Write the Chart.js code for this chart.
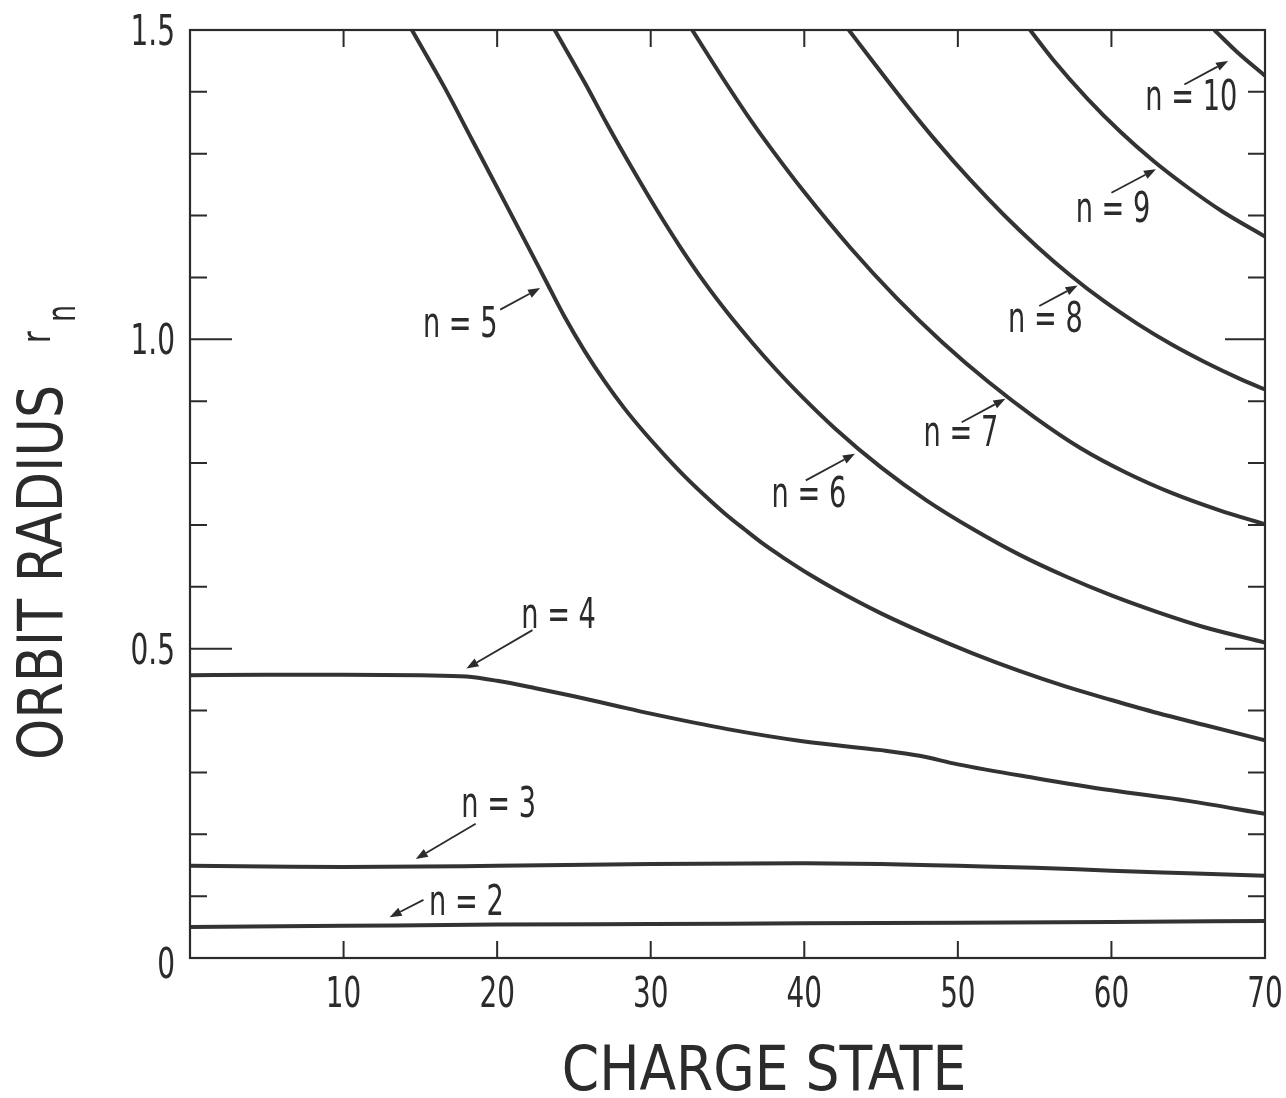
<!DOCTYPE html>
<html>
<head>
<meta charset="utf-8">
<script src="https://cdn.jsdelivr.net/npm/chart.js@4.4.0/dist/chart.umd.min.js"></script>
<style>
  html, body { margin: 0; padding: 0; background: #fff; }
  #wrap { width: 1286px; height: 1098px; position: relative; }
</style>
</head>
<body>
<div id="wrap"><canvas id="chart"></canvas></div>
<script>
// axis ticks
const xTickValues = [10, 20, 30, 40, 50, 60, 70];
const yMinorTicks = [0.1, 0.2, 0.3, 0.4, 0.5, 0.6, 0.7, 0.8, 0.9, 1.0, 1.1, 1.2, 1.3, 1.4];
const yMajorTicks = [0.5, 1.0];
const yLabelValues = [0, 0.5, 1.0, 1.5];
const yLabelText = ['0', '0.5', '1.0', '1.5'];

// orbit radius curves (charge state -> r_n)
const chargeN2 = [0, 10, 20, 30, 40, 50, 60, 70];
const radiusN2 = [0.050, 0.052, 0.054, 0.055, 0.056, 0.057, 0.058, 0.060];

const chargeN3 = [0, 5, 10, 20, 30, 40, 45, 50, 55, 60, 65, 70];
const radiusN3 = [0.149, 0.148, 0.147, 0.149, 0.152, 0.153, 0.152, 0.149, 0.146, 0.141, 0.137, 0.133];

const chargeN4 = [0, 5, 10, 15, 18, 20, 22.5, 25, 27.5, 30, 35, 40, 45, 47.5, 50, 55, 60, 65, 70];
const radiusN4 = [0.457, 0.458, 0.458, 0.457, 0.455, 0.448, 0.436, 0.423, 0.409, 0.395, 0.370, 0.350, 0.336, 0.327, 0.313, 0.291, 0.271, 0.254, 0.233];

const chargeN5 = [14.45, 16.6, 18.4, 20.2, 21.8, 23.1, 24.4, 25.7, 27.0, 28.3, 29.6, 30.9, 32.2, 33.5, 34.8, 36.1, 37.4, 38.7, 40.4, 42, 45, 48, 51, 54, 57, 60, 63, 66, 70];
const radiusN5 = [1.5, 1.406, 1.321, 1.236, 1.160, 1.098, 1.036, 0.981, 0.932, 0.888, 0.849, 0.813, 0.779, 0.748, 0.719, 0.693, 0.668, 0.646, 0.619, 0.596, 0.557, 0.523, 0.492, 0.464, 0.439, 0.417, 0.396, 0.377, 0.352];

const chargeN6 = [23.75, 25.7, 27.2, 28.8, 30.4, 31.9, 33.5, 35.0, 36.6, 38.2, 39.7, 42, 45, 48, 51, 54, 57, 60, 63, 66, 70];
const radiusN6 = [1.5, 1.415, 1.346, 1.276, 1.209, 1.150, 1.092, 1.043, 0.995, 0.950, 0.911, 0.856, 0.793, 0.739, 0.693, 0.652, 0.617, 0.586, 0.559, 0.535, 0.510];

const chargeN7 = [32.7, 34.8, 36.6, 38.0, 40.0, 43, 46, 49, 52, 55, 58, 61, 64, 67, 70];
const radiusN7 = [1.5, 1.418, 1.351, 1.303, 1.238, 1.148, 1.067, 0.995, 0.931, 0.874, 0.824, 0.784, 0.751, 0.724, 0.701];

const chargeN8 = [42.9, 44.25, 46.4, 48.6, 50.8, 53.0, 55.2, 57.3, 59.5, 61.7, 63.9, 66.1, 68.3, 70];
const radiusN8 = [1.5, 1.456, 1.387, 1.320, 1.258, 1.201, 1.149, 1.104, 1.062, 1.025, 0.992, 0.963, 0.937, 0.919];

const chargeN9 = [54.7, 56.2, 58.4, 60.6, 62.8, 65.0, 67.2, 70];
const radiusN9 = [1.5, 1.452, 1.390, 1.335, 1.287, 1.245, 1.207, 1.166];

const chargeN10 = [66.7, 68.2, 70];
const radiusN10 = [1.5, 1.464, 1.426];

// curve labels with arrows (data coordinates)
const labelText  = ['n = 2', 'n = 3', 'n = 4', 'n = 5', 'n = 6', 'n = 7', 'n = 8', 'n = 9', 'n = 10'];
const labelX     = [18.0, 20.1, 24.0, 17.6, 40.3, 50.2, 55.7, 60.1, 65.2];
const labelY     = [0.090, 0.248, 0.555, 1.025, 0.750, 0.849, 1.033, 1.211, 1.391];
const arrowFromX = [15.2, 18.6, 22.3, 20.2, 40.1, 50.25, 55.3, 60.0, 64.75];
const arrowFromY = [0.094, 0.217, 0.530, 1.048, 0.772, 0.866, 1.054, 1.237, 1.412];
const arrowToX   = [13.0, 14.7, 18.0, 22.8, 43.3, 53.1, 57.8, 62.9, 67.6];
const arrowToY   = [0.066, 0.160, 0.468, 1.083, 0.815, 0.904, 1.087, 1.275, 1.450];

const FONT = "'DejaVu Sans Condensed', 'DejaVu Sans', sans-serif";
const INK = '#2b2b2b';
const CURVE = '#333333';

function pts(xs, ys) {
  return xs.map((x, i) => ({ x: x, y: ys[i] }));
}

// draws text squeezed horizontally to mimic the narrow lettering
function narrowText(ctx, text, x, y, size, sx, align, angle) {
  ctx.save();
  ctx.translate(x, y);
  if (angle) ctx.rotate(angle);
  ctx.scale(sx, 1);
  ctx.font = size + 'px ' + FONT;
  ctx.textAlign = align;
  ctx.fillText(text, 0, 0);
  ctx.restore();
}

const curves = [
  [chargeN2, radiusN2], [chargeN3, radiusN3], [chargeN4, radiusN4],
  [chargeN5, radiusN5], [chargeN6, radiusN6], [chargeN7, radiusN7],
  [chargeN8, radiusN8], [chargeN9, radiusN9], [chargeN10, radiusN10]
];

const datasets = curves.map((c, i) => ({
  label: 'n=' + (i + 2),
  data: pts(c[0], c[1]),
  borderColor: CURVE,
  borderWidth: 4,
  pointRadius: 0,
  fill: false,
  cubicInterpolationMode: 'monotone'
}));

// frame, inward ticks, tick labels, titles, curve labels
const decorations = {
  id: 'decorations',
  afterDraw(chart) {
    const ctx = chart.ctx;
    const xs = chart.scales.x, ys = chart.scales.y;
    const a = chart.chartArea;
    ctx.save();
    ctx.strokeStyle = INK;
    ctx.fillStyle = INK;
    ctx.textBaseline = 'alphabetic';

    // frame
    ctx.lineWidth = 2.2;
    ctx.strokeRect(a.left, a.top, a.right - a.left, a.bottom - a.top);

    // x ticks on bottom and top
    ctx.lineWidth = 2;
    ctx.beginPath();
    xTickValues.forEach(v => {
      if (v >= 70) return;
      const px = xs.getPixelForValue(v);
      ctx.moveTo(px, a.bottom); ctx.lineTo(px, a.bottom - 17);
      ctx.moveTo(px, a.top); ctx.lineTo(px, a.top + 17);
    });
    // y ticks on left and right
    yMinorTicks.forEach(v => {
      const py = ys.getPixelForValue(v);
      const major = yMajorTicks.some(m => Math.abs(m - v) < 1e-6);
      ctx.moveTo(a.left, py); ctx.lineTo(a.left + (major ? 42 : 17), py);
      ctx.moveTo(a.right, py); ctx.lineTo(a.right - (major ? 40 : 17), py);
    });
    ctx.stroke();

    // tick labels
    xTickValues.forEach(v => {
      narrowText(ctx, String(v), xs.getPixelForValue(v), a.bottom + 49, 43, 0.72, 'center');
    });
    yLabelValues.forEach((v, i) => {
      const py = ys.getPixelForValue(v);
      narrowText(ctx, yLabelText[i], a.left - 15, py + (v === 0 ? 20 : 15), 42, 0.74, 'right');
    });

    // x title
    narrowText(ctx, 'CHARGE STATE', 764, 1090, 62, 0.96, 'center');

    // y title, rotated, with r_n
    narrowText(ctx, 'ORBIT RADIUS', 62, 760, 62, 0.94, 'left', -Math.PI / 2);
    narrowText(ctx, 'r', 50, 343, 40, 0.8, 'left', -Math.PI / 2);
    narrowText(ctx, 'n', 75, 322, 40, 0.75, 'left', -Math.PI / 2);

    // curve labels and arrows
    ctx.textBaseline = 'middle';
    labelText.forEach((t, i) => {
      narrowText(ctx, t, xs.getPixelForValue(labelX[i]), ys.getPixelForValue(labelY[i]) + 2, 42, 0.72, 'center');
      const x0 = xs.getPixelForValue(arrowFromX[i]), y0 = ys.getPixelForValue(arrowFromY[i]);
      const x1 = xs.getPixelForValue(arrowToX[i]), y1 = ys.getPixelForValue(arrowToY[i]);
      const ang = Math.atan2(y1 - y0, x1 - x0);
      const hl = 12, hw = 4.5;
      const bx = x1 - hl * Math.cos(ang), by = y1 - hl * Math.sin(ang);
      ctx.lineWidth = 1.8;
      ctx.beginPath();
      ctx.moveTo(x0, y0); ctx.lineTo(bx, by);
      ctx.stroke();
      ctx.beginPath();
      ctx.moveTo(x1, y1);
      ctx.lineTo(bx + hw * Math.sin(ang), by - hw * Math.cos(ang));
      ctx.lineTo(bx - hw * Math.sin(ang), by + hw * Math.cos(ang));
      ctx.closePath();
      ctx.fill();
    });
    ctx.restore();
  }
};

new Chart(document.getElementById('chart'), {
  type: 'line',
  data: { datasets: datasets },
  options: {
    responsive: true,
    maintainAspectRatio: false,
    animation: false,
    layout: { padding: { left: 190, right: 21, top: 30, bottom: 140 } },
    scales: {
      x: { type: 'linear', min: 0, max: 70, display: false },
      y: { type: 'linear', min: 0, max: 1.5, display: false }
    },
    plugins: {
      legend: { display: false },
      tooltip: { enabled: false }
    }
  },
  plugins: [decorations]
});
</script>
</body>
</html>
